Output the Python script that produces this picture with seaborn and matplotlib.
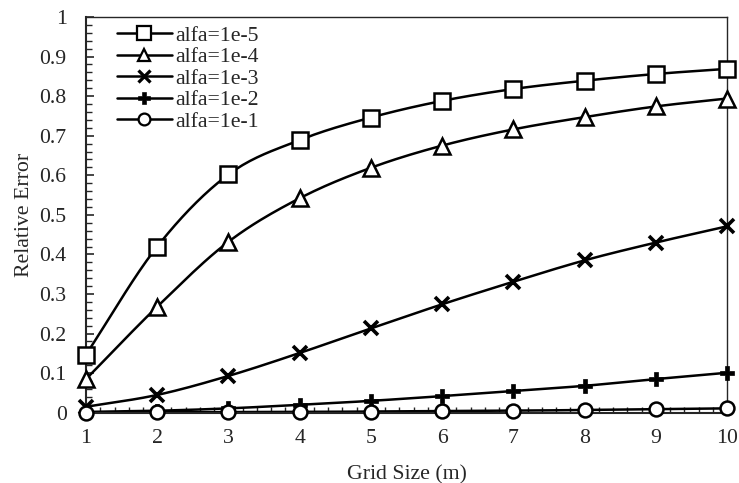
import numpy as np
import pandas as pd
import seaborn as sns
import matplotlib
matplotlib.use("Agg")
import matplotlib.pyplot as plt
from matplotlib.lines import Line2D
from matplotlib.ticker import MultipleLocator

grid_size = [1, 2, 3, 4, 5, 6, 7, 8, 9, 10]
err_1e5 = [0.147, 0.420, 0.602, 0.689, 0.746, 0.788, 0.818, 0.839, 0.856, 0.869]
err_1e4 = [0.085, 0.268, 0.432, 0.542, 0.619, 0.675, 0.716, 0.747, 0.774, 0.794]
err_1e3 = [0.015, 0.045, 0.093, 0.151, 0.213, 0.274, 0.331, 0.385, 0.430, 0.471]
err_1e2 = [0.002, 0.005, 0.011, 0.020, 0.030, 0.042, 0.055, 0.068, 0.085, 0.101]
err_1e1 = [0.0005, 0.001, 0.0015, 0.002, 0.003, 0.004, 0.005, 0.007, 0.009, 0.011]
labels = ["alfa=1e-5", "alfa=1e-4", "alfa=1e-3", "alfa=1e-2", "alfa=1e-1"]
series = [err_1e5, err_1e4, err_1e3, err_1e2, err_1e1]
y_tick_labels = ["0", "0.1", "0.2", "0.3", "0.4", "0.5", "0.6", "0.7", "0.8", "0.9", "1"]

x_label = "Grid Size (m)"
y_label = "Relative Error"

sns.set_style("ticks")
plt.rcParams['font.family'] = ['Liberation Serif', 'DejaVu Serif']

FS = 15.7


def smooth(xs, ys, n=20):
    """Catmull-Rom style smoothing of the drawn path (Excel 'smoothed line')."""
    xs = np.asarray(xs, float)
    ys = np.asarray(ys, float)
    px = np.concatenate([[2 * xs[0] - xs[1]], xs, [2 * xs[-1] - xs[-2]]])
    py = np.concatenate([[2 * ys[0] - ys[1]], ys, [2 * ys[-1] - ys[-2]]])
    ox, oy = [], []
    t = np.linspace(0, 1, n, endpoint=False)
    for i in range(1, len(px) - 2):
        p0, p1, p2, p3 = (np.array([px[j], py[j]]) for j in (i - 1, i, i + 1, i + 2))
        m1 = (p2 - p0) / 6.0
        m2 = (p3 - p1) / 6.0
        b1 = p1 + m1
        b2 = p2 - m2
        pts = ((1 - t) ** 3)[:, None] * p1 + (3 * (1 - t) ** 2 * t)[:, None] * b1 \
            + (3 * (1 - t) * t ** 2)[:, None] * b2 + (t ** 3)[:, None] * p2
        ox.extend(pts[:, 0]); oy.extend(pts[:, 1])
    ox.append(xs[-1]); oy.append(ys[-1])
    return np.array(ox), np.array(oy)


fig = plt.figure(figsize=(7.39, 4.83), dpi=100)
ax = fig.add_axes([0.1164, 0.1455, 0.8674, 0.8193])

markers = ['s', '^', 'x', 'P', 'o']
msizes = [11.5, 11, 10, 10, 10]
mew = [1.8, 1.8, 2.6, 0.5, 1.8]
handles = []
for lab, ys, mk, ms, ew in zip(labels, series, markers, msizes, mew):
    sx, sy = smooth(grid_size, ys)
    df_line = pd.DataFrame({"x": sx, "y": sy})
    sns.lineplot(data=df_line, x="x", y="y", sort=False, estimator=None,
                 color="black", lw=1.8, ax=ax, zorder=2)
    filled = mk in ('x', 'P')
    ax.plot(grid_size, ys, linestyle='none', marker=mk, markersize=ms,
            markerfacecolor='black' if filled else 'white',
            markeredgecolor='black', markeredgewidth=ew,
            zorder=3, clip_on=False)
    handles.append(Line2D([0], [0], color='black', lw=1.8, marker=mk,
                          markersize=ms * 0.85,
                          markerfacecolor='black' if filled else 'white',
                          markeredgecolor='black',
                          markeredgewidth=ew * 0.9))

ax.set_xlim(1, 10)
ax.set_ylim(0, 1)
ax.xaxis.set_major_locator(MultipleLocator(1))
ax.xaxis.set_minor_locator(MultipleLocator(0.2))
ax.set_yticks(np.round(np.arange(0, 1.01, 0.1), 1))
ax.set_yticklabels(y_tick_labels)
ax.yaxis.set_minor_locator(MultipleLocator(0.02))
ax.tick_params(which='major', direction='in', length=6, width=1.2, labelsize=FS)
ax.tick_params(which='minor', direction='in', length=4, width=1.0)
ax.tick_params(axis='x', which='major', pad=12)
ax.tick_params(axis='y', which='major', pad=14)
for side in ['left', 'bottom']:
    ax.spines[side].set_linewidth(1.5)
for side in ['right', 'top']:
    ax.spines[side].set_linewidth(1.0)
    ax.spines[side].set_visible(True)

ax.set_xlabel(x_label, fontsize=FS, labelpad=12)
ax.set_ylabel(y_label, fontsize=FS, labelpad=4)

leg = ax.legend(handles, labels, loc='upper left', bbox_to_anchor=(0.028, 1.012),
                frameon=False, fontsize=FS, handlelength=2.5, handletextpad=0.15,
                labelspacing=0.06, borderaxespad=0.2)

fig.savefig("out.png", dpi=100)
